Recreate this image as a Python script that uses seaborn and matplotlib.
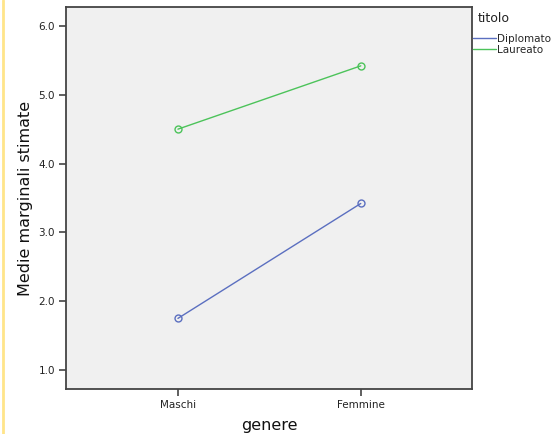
import matplotlib
matplotlib.use("Agg")
import matplotlib.pyplot as plt
from matplotlib.lines import Line2D
from matplotlib.ticker import FormatStrFormatter
import pandas as pd
import seaborn as sns

# Estimated marginal means by gender and qualification
genere = ["Maschi", "Femmine"]
diplomato = [1.75, 3.42]
laureato = [4.50, 5.42]
titoli = ["Diplomato", "Laureato"]
colori = ["#5b6fc0", "#4cc35a"]

df = pd.DataFrame({
    "genere": genere * 2,
    "titolo": [titoli[0]] * 2 + [titoli[1]] * 2,
    "media": diplomato + laureato,
})

sns.set_style("white")
plt.rcParams["font.family"] = ["DejaVu Sans"]

fig = plt.figure(figsize=(5.55, 4.34), dpi=100)
ax = fig.add_axes([0.119, 0.1037, 0.731, 0.8803])
ax.set_facecolor("#f0f0f0")

sns.pointplot(data=df, x="genere", y="media", hue="titolo", order=genere,
              hue_order=titoli, palette=colori, markers="o", linestyles="-",
              markersize=5, linewidth=1.0, markerfacecolor="none",
              markeredgewidth=1.0, errorbar=None, legend=False, ax=ax)
for ln in ax.lines:
    ln.set_markerfacecolor("none")

ax.set_xlim(-0.612, 1.607)
ax.set_ylim(0.724, 6.276)
ax.set_yticks([1, 2, 3, 4, 5, 6])
ax.yaxis.set_major_formatter(FormatStrFormatter("%.1f"))
ax.tick_params(axis="both", direction="out", length=5, width=1.2,
               color="#444444", labelsize=7.5, labelcolor="#222222",
               left=True, bottom=True, pad=3)
for s in ax.spines.values():
    s.set_color("#444444")
    s.set_linewidth(1.3)

ax.set_xlabel("genere", fontsize=11.5, color="#111111", labelpad=6)
ax.set_ylabel("Medie marginali stimate", fontsize=11.5, color="#111111", labelpad=4)

# legend: title placed on its own, entries below
fig.text(478 / 555, 1 - 18 / 434, "titolo", fontsize=9, color="#222222",
         ha="left", va="center")
handles = [Line2D([0], [0], color=c, lw=1.0) for c in colori]
ax.legend(handles, titoli, loc="upper left",
          bbox_to_anchor=(1.004, 0.929), frameon=False, fontsize=7.5,
          handlelength=2.2, handletextpad=0.1,
          labelspacing=0.1, borderaxespad=0, borderpad=0)

# thin yellow rule along the left edge
fig.add_artist(Line2D([2.5 / 555, 2.5 / 555], [0, 1], color="#ffe58a", lw=2.0,
                      transform=fig.transFigure))

fig.savefig("out.png", dpi=100)
